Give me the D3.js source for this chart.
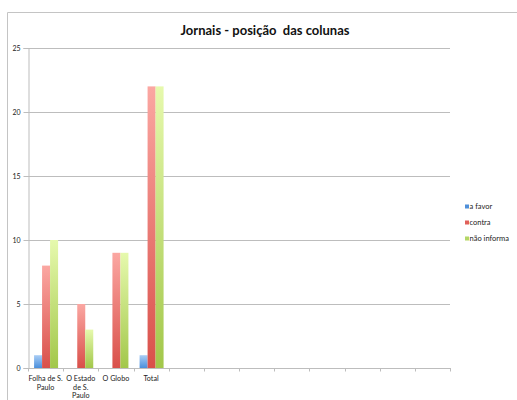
<!DOCTYPE html>
<html>
<head>
<meta charset="utf-8">
<script src="https://cdn.jsdelivr.net/npm/d3@7/dist/d3.min.js"></script>
<style>
  html, body { margin: 0; padding: 0; background: #fff; }
  svg { display: block; font-family: Lato, "Open Sans", sans-serif; }
  text { white-space: pre; }
</style>
</head>
<body>
<svg id="chart" width="517" height="400"></svg>
<script>
const title = "Jornais - posição  das colunas";
const categories = ["Folha de S.\nPaulo", "O Estado\nde S.\nPaulo", "O Globo", "Total", "", "", "", "", "", "", "", ""];
const seriesNames = ["a favor", "contra", "não informa"];
const aFavor = [1, 0, 0, 1];
const contra = [8, 5, 9, 22];
const naoInforma = [10, 3, 9, 22];
const yTicks = [0, 5, 10, 15, 20, 25];

const series = [aFavor, contra, naoInforma];
const colors = [
  { top: "#a9cdf5", bottom: "#4a8fdc", key: "#4f8fd9" },
  { top: "#fba7a2", bottom: "#d9504a", key: "#e0605b" },
  { top: "#e6f9ad", bottom: "#a2c74a", key: "#b3d766" }
];

const svg = d3.select("#chart");
const margin = { left: 28, right: 67, top: 48, bottom: 32 };
const W = 517, H = 400;
const x0 = margin.left, x1 = W - margin.right;
const yTop = margin.top, yBot = H - margin.bottom;

// outer frame
svg.append("path")
  .attr("d", `M7.5,${H} V12.5 H${W}`)
  .attr("fill", "none").attr("stroke", "#c4c4c4").attr("stroke-width", 1);

const defs = svg.append("defs");
colors.forEach((c, i) => {
  const g = defs.append("linearGradient").attr("id", "g" + i)
    .attr("x1", 0).attr("y1", 0).attr("x2", 0).attr("y2", 1);
  g.append("stop").attr("offset", "0%").attr("stop-color", c.top);
  g.append("stop").attr("offset", "100%").attr("stop-color", c.bottom);
});

const xIdx = categories.map((d, i) => i);
const x = d3.scaleBand().domain(xIdx).range([x0, x1]).paddingInner(0).paddingOuter(0);
const y = d3.scaleLinear().domain([0, 25]).range([yBot, yTop]);

// gridlines
svg.append("g").selectAll("line").data(yTicks.filter(t => t > 0)).join("line")
  .attr("x1", x0).attr("x2", x1)
  .attr("y1", d => Math.round(y(d)) + 0.5).attr("y2", d => Math.round(y(d)) + 0.5)
  .attr("stroke", "#bdbdbd").attr("stroke-width", 1);

// bars
const barW = 8;
const groupW = barW * series.length;
series.forEach((vals, s) => {
  svg.append("g").selectAll("rect").data(vals).join("rect")
    .attr("x", (d, i) => x(i) + (x.bandwidth() - groupW) / 2 + 0.5 + s * barW)
    .attr("y", d => y(d))
    .attr("width", barW)
    .attr("height", d => y(0) - y(d))
    .attr("fill", `url(#g${s})`);
});

// y axis
const yAxis = svg.append("g").attr("transform", `translate(${x0 + 0.5},0)`)
  .call(d3.axisLeft(y).tickValues(yTicks).tickSize(5).tickPadding(3));
yAxis.select(".domain").attr("stroke", "#bdbdbd");
yAxis.selectAll(".tick line").attr("stroke", "#bdbdbd");
yAxis.selectAll(".tick text").attr("font-size", "7px").attr("fill", "#222")
  .attr("font-family", "Lato, sans-serif");

// x axis
const xAxis = svg.append("g").attr("transform", `translate(0,${yBot + 0.5})`);
xAxis.append("line").attr("x1", x0).attr("x2", x1 + 1).attr("stroke", "#bdbdbd");
xAxis.selectAll("line.t").data(xIdx.concat([categories.length])).join("line")
  .attr("class", "t")
  .attr("x1", i => Math.round(i < categories.length ? x(i) : x1) + 0.5)
  .attr("x2", i => Math.round(i < categories.length ? x(i) : x1) + 0.5)
  .attr("y1", 0).attr("y2", 3).attr("stroke", "#bdbdbd");
const labels = xAxis.selectAll("text").data(xIdx).join("text")
  .attr("text-anchor", "middle")
  .attr("font-size", "7.2px").attr("fill", "#222");
labels.each(function (i) {
  const lines = categories[i].split("\n");
  const t = d3.select(this);
  lines.forEach((ln, k) => {
    if (!ln) return;
    t.append("tspan").attr("x", x(i) + x.bandwidth() / 2).attr("y", 12.5 + k * 8.5).text(ln);
  });
});

// title
svg.append("text").attr("x", 265).attr("y", 35).attr("text-anchor", "middle")
  .attr("font-size", "13px").attr("font-weight", "bold").attr("fill", "#111").text(title);

// legend
const leg = svg.append("g").attr("transform", "translate(465,0)");
seriesNames.forEach((n, i) => {
  const yy = 209 + i * 16;
  leg.append("rect").attr("x", 0).attr("y", yy - 4.5).attr("width", 4).attr("height", 4).attr("fill", colors[i].key);
  leg.append("text").attr("x", 4.5).attr("y", yy).attr("font-size", "7.5px").attr("fill", "#222").text(n);
});
</script>
</body>
</html>
